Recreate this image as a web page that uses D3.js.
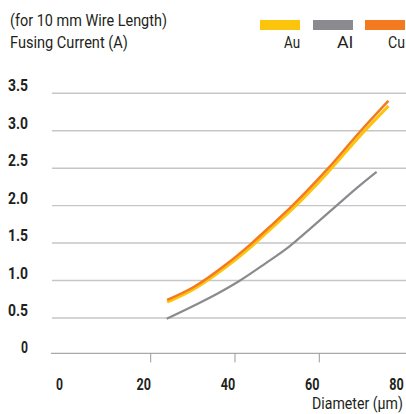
<!DOCTYPE html>
<html><head><meta charset="utf-8">
<script src="https://cdn.jsdelivr.net/npm/d3@7"></script>
<style>
html,body{margin:0;padding:0;background:#fff;}
svg{display:block;}
text{font-family:"Liberation Sans Narrow","Roboto",sans-serif;fill:#231f20;}
</style></head><body>
<svg id="c" width="406" height="414"></svg>
<script>
const xTicks = [0, 20, 40, 60, 80];
const yTicks = [0, 0.5, 1.0, 1.5, 2.0, 2.5, 3.0, 3.5];
const yTickLabels = ["0", "0.5", "1.0", "1.5", "2.0", "2.5", "3.0", "3.5"];
const seriesNames = ["Au", "Al", "Cu"];
const seriesColors = ["#fdc40c", "#8b8b8f", "#f47a20"];
const diamCu = [23.9, 30.1, 38.0, 43.6, 48.3, 53.8, 61.8, 69.7, 76.4];
const valCu  = [0.74, 0.91, 1.22, 1.48, 1.72, 2.01, 2.48, 2.99, 3.40];
const diamAu = [23.9, 30.1, 38.0, 43.6, 48.3, 53.8, 61.8, 69.7, 76.4];
const valAu  = [0.71, 0.88, 1.185, 1.44, 1.68, 1.965, 2.43, 2.935, 3.33];
const diamAl = [23.8, 30.1, 36.0, 41.2, 47.0, 53.0, 58.0, 64.5, 69.0, 73.6];
const valAl  = [0.49, 0.66, 0.83, 1.00, 1.22, 1.46, 1.70, 2.02, 2.24, 2.45];

const svg = d3.select("#c");
const x = d3.scaleLinear().domain([0, 80]).range([66.4, 403.6]);
const y = d3.scaleLinear().domain([0, 3.5]).range([355.4, 93.3]);

// condensed text: scale horizontally to a measured width
function label(parent, txt, px, py, w, anchor, size, weight) {
  const g = parent.append("g");
  const t = g.append("text").attr("font-size", size).attr("font-weight", weight || "normal").text(txt);
  const nat = t.node().getComputedTextLength();
  const sx = w / nat;
  const x0 = anchor === "end" ? px - w : anchor === "middle" ? px - w / 2 : px;
  g.attr("transform", `translate(${x0},${py}) scale(${sx},1)`);
  return g;
}

// gridlines
svg.append("g").selectAll("line").data(yTicks.filter(d => d > 0)).join("line")
  .attr("x1", 52).attr("x2", 406)
  .attr("y1", d => y(d)).attr("y2", d => y(d))
  .attr("stroke", "#c6c6c6").attr("stroke-width", 1.4);
// baseline
svg.append("line").attr("x1", 51).attr("x2", 406)
  .attr("y1", y(0) - 2).attr("y2", y(0) - 2)
  .attr("stroke", "#a9a9a9").attr("stroke-width", 1.4);
// x ticks
svg.append("g").selectAll("line").data(xTicks.filter(d => d > 0 && d < 80)).join("line")
  .attr("x1", d => x(d)).attr("x2", d => x(d))
  .attr("y1", y(0) - 2).attr("y2", y(0) + 7)
  .attr("stroke", "#9a9a9a").attr("stroke-width", 1);

// y labels
const gy = svg.append("g");
yTicks.forEach((d, i) => {
  label(gy, yTickLabels[i], 28, y(d) - 2, yTickLabels[i].length === 1 ? 7 : 20, "end", 16.5, "bold");
});
// x labels
const gx = svg.append("g");
xTicks.forEach(d => {
  const s = String(d);
  label(gx, s, Math.min(x(d) - 7, 396.5), 389.5, s.length === 1 ? 7 : 14.5, "middle", 16.5, "bold");
});
label(svg, "Diameter (µm)", 403, 409, 91, "end", 16);

// titles
label(svg, "(for 10 mm Wire Length)", 10, 26, 157, "start", 16);
label(svg, "Fusing Current (A)", 10, 48, 118, "start", 16);

// legend
const legX = [260, 313, 365];
const legW = [16, 16, 17];
seriesNames.forEach((n, i) => {
  svg.append("rect").attr("x", legX[i]).attr("y", 20).attr("width", 40).attr("height", 10).attr("fill", seriesColors[i]);
  label(svg, n, legX[i] + 40, 48, legW[i], "end", 16);
});

// lines
const line = d3.line().x(d => x(d[0])).y(d => y(d[1])).curve(d3.curveMonotoneX);
const mk = (ds, vs) => ds.map((d, i) => [d, vs[i]]);
svg.append("path").attr("d", line(mk(diamAl, valAl))).attr("fill", "none").attr("stroke", seriesColors[1]).attr("stroke-width", 2.2);
svg.append("path").attr("d", line(mk(diamAu, valAu))).attr("fill", "none").attr("stroke", seriesColors[0]).attr("stroke-width", 3);
svg.append("path").attr("d", line(mk(diamCu, valCu))).attr("fill", "none").attr("stroke", seriesColors[2]).attr("stroke-width", 2.5);
</script>
</body></html>
